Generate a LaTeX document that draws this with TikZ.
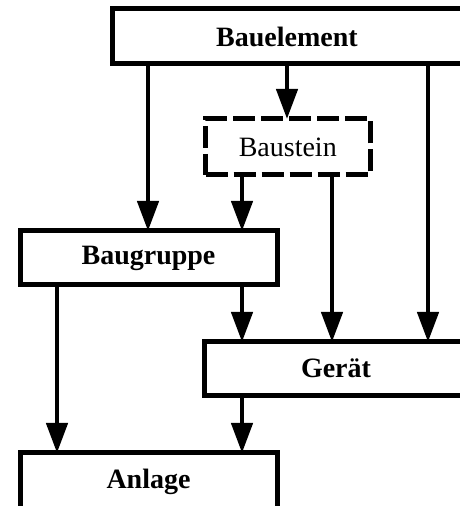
\documentclass[tikz,border=0pt]{standalone}
\usepackage{fontspec}
\setmainfont{Liberation Serif}
\usetikzlibrary{arrows.meta}
\begin{document}
\begin{tikzpicture}[x=1pt,y=1pt,
  box/.style={draw=black, line width=5pt, fill=white, rectangle, inner sep=0pt, outer sep=0pt,
    font=\fontsize{28}{33}\selectfont\bfseries},
  dbox/.style={box, font=\fontsize{28}{33}\selectfont, dash pattern=on 22pt off 6pt},
  arr/.style={line width=4.5pt, -{Triangle[length=30pt,width=21pt]}}
]
\useasboundingbox (0,0) rectangle (459,506);
\node[box, minimum width=350pt, minimum height=55pt] (bauelement) at (287,469.5) {Bauelement};
\node[dbox, minimum width=164.5pt, minimum height=56pt] (baustein) at (287.75,359) {Baustein};
\node[box, minimum width=257pt, minimum height=54pt] (baugruppe) at (148.5,248) {Baugruppe};
\node[box, minimum width=262.5pt, minimum height=53.5pt] (geraet) at (336,137.25) {Gerät};
\node[box, minimum width=257pt, minimum height=58pt] (anlage) at (148.5,24) {Anlage};
\coordinate (xa) at (148,0);
\coordinate (xb) at (242,0);
\coordinate (xc) at (287,0);
\coordinate (xd) at (332,0);
\coordinate (xe) at (428,0);
\coordinate (xf) at (57,0);
\draw[arr] (bauelement.south -| xc) -- (baustein.north -| xc);
\draw[arr] (bauelement.south -| xa) -- (baugruppe.north -| xa);
\draw[arr] (bauelement.south -| xe) -- (geraet.north -| xe);
\draw[arr] (baustein.south -| xb) -- (baugruppe.north -| xb);
\draw[arr] (baustein.south -| xd) -- (geraet.north -| xd);
\draw[arr] (baugruppe.south -| xb) -- (geraet.north -| xb);
\draw[arr] (baugruppe.south -| xf) -- (anlage.north -| xf);
\draw[arr] (geraet.south -| xb) -- (anlage.north -| xb);
\end{tikzpicture}
\end{document}
